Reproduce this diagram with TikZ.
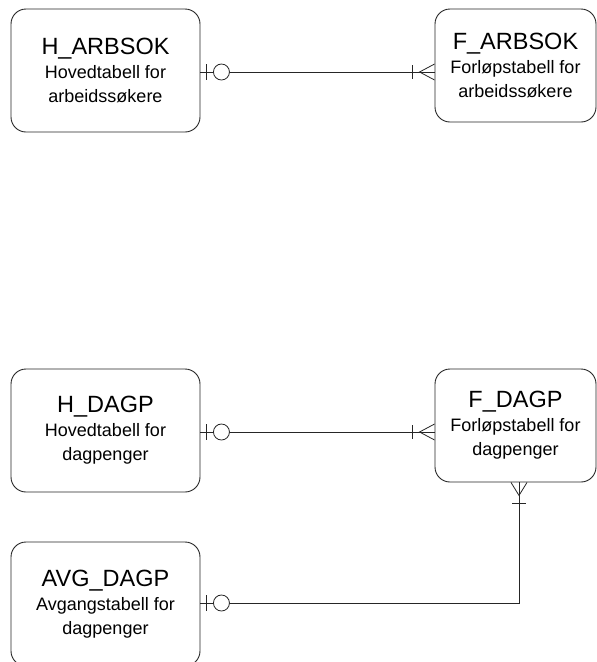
\documentclass[tikz,border=0pt]{standalone}
\usepackage{fontspec}
\setmainfont{Liberation Sans}
\usetikzlibrary{calc}
\newcommand\erTitle{\fontsize{23.5}{24}\selectfont}
\newcommand\erSub{\fontsize{18}{24}\selectfont}
\begin{document}
\begin{tikzpicture}[x=1pt,y=-1pt,
  ent/.style={draw=black!85, line width=0.9pt, rounded corners=15pt, inner sep=0pt, align=center, font=\erSub, text=black},
  conn/.style={draw=black!85, line width=0.8pt},
]
\useasboundingbox (0,0) rectangle (597,662);

\node[ent, minimum width=189pt, minimum height=123pt] (HA) at (105.5,70.5)
  {{\erTitle H\_ARBSOK}\\Hovedtabell for\\arbeidssøkere};
\node[ent, minimum width=161pt, minimum height=113pt] (FA) at (515.5,65.5)
  {{\erTitle F\_ARBSOK}\\Forløpstabell for\\arbeidssøkere};
\node[ent, minimum width=189pt, minimum height=123pt] (HD) at (105.5,430.5)
  {{\erTitle H\_DAGP}\\Hovedtabell for\\dagpenger};
\node[ent, minimum width=161pt, minimum height=113pt] (FD) at (515.5,425.5)
  {{\erTitle F\_DAGP}\\Forløpstabell for\\dagpenger};
\node[ent, minimum width=189pt, minimum height=124pt] (AD) at (105.5,604)
  {{\erTitle AVG\_DAGP}\\Avgangstabell for\\dagpenger};

% connector 1
\coordinate (y1) at (0,72);
\draw[conn] (HA.east |- y1) -- (FA.west |- y1);
\draw[conn] ($(HA.east |- y1)+(6,-8)$) -- ++(0,16);
\draw[conn, fill=white] ($(HA.east |- y1)+(21,0)$) circle[radius=8pt];
\draw[conn] ($(FA.west |- y1)+(-22,-7)$) -- ++(0,14);
\draw[conn] ($(FA.west |- y1)+(0,-8)$) -- ($(FA.west |- y1)+(-15,0)$) -- ($(FA.west |- y1)+(0,8)$);

% connector 2
\coordinate (y2) at (0,432);
\draw[conn] (HD.east |- y2) -- (FD.west |- y2);
\draw[conn] ($(HD.east |- y2)+(6,-8)$) -- ++(0,16);
\draw[conn, fill=white] ($(HD.east |- y2)+(21,0)$) circle[radius=8pt];
\draw[conn] ($(FD.west |- y2)+(-22,-7)$) -- ++(0,14);
\draw[conn] ($(FD.west |- y2)+(0,-8)$) -- ($(FD.west |- y2)+(-15,0)$) -- ($(FD.west |- y2)+(0,8)$);

% connector 3
\coordinate (y3) at (0,603);
\coordinate (x3) at (519,0);
\coordinate (bend) at (x3 |- y3);
\draw[conn] (FD.south -| x3) -- (bend) -- (AD.east |- y3);
\draw[conn] ($(FD.south -| x3)+(-8,0)$) -- ($(FD.south -| x3)+(0,13)$) -- ($(FD.south -| x3)+(8,0)$);
\draw[conn] ($(FD.south -| x3)+(-7,21)$) -- ++(14,0);
\draw[conn] ($(AD.east |- y3)+(6,-8)$) -- ++(0,16);
\draw[conn, fill=white] ($(AD.east |- y3)+(21,0)$) circle[radius=8pt];
\end{tikzpicture}
\end{document}
